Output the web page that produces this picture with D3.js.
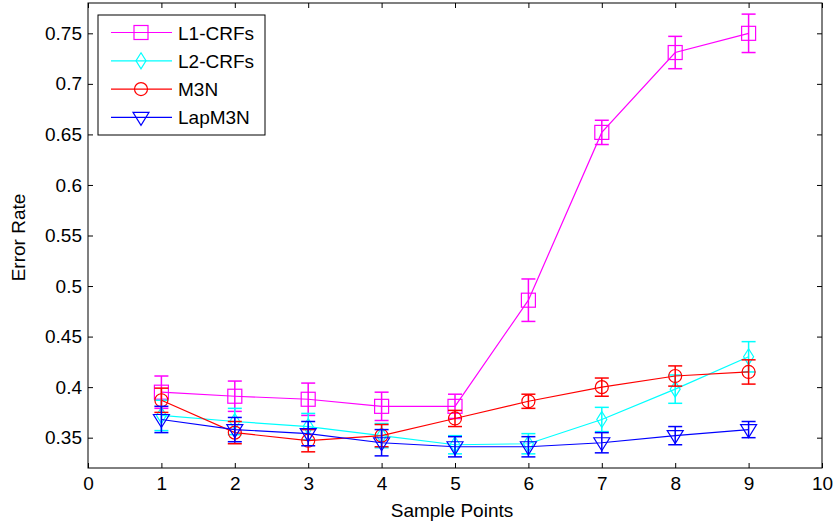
<!DOCTYPE html>
<html>
<head>
<meta charset="utf-8">
<script src="https://cdn.jsdelivr.net/npm/d3@7"></script>
<style>
body { margin: 0; background: #fff; }
text { font-family: "Liberation Sans", Arial, sans-serif; }
</style>
</head>
<body>
<div id="chart"></div>
<script>
var points = [1, 2, 3, 4, 5, 6, 7, 8, 9];
var xTicks = [0, 1, 2, 3, 4, 5, 6, 7, 8, 9, 10];
var yTicks = [0.35, 0.4, 0.45, 0.5, 0.55, 0.6, 0.65, 0.7, 0.75];

var l1Mean = [0.395, 0.391, 0.388, 0.381, 0.381, 0.486, 0.652, 0.731, 0.750];
var l1Err  = [0.016, 0.015, 0.016, 0.014, 0.012, 0.021, 0.012, 0.016, 0.019];
var l2Mean = [0.372, 0.366, 0.361, 0.352, 0.343, 0.344, 0.368, 0.398, 0.430];
var l2Err  = [0.015, 0.013, 0.013, 0.012, 0.009, 0.010, 0.012, 0.014, 0.015];
var m3Mean = [0.387, 0.355, 0.347, 0.352, 0.369, 0.386, 0.400, 0.411, 0.415];
var m3Err  = [0.012, 0.011, 0.011, 0.011, 0.008, 0.007, 0.009, 0.010, 0.012];
var lapMean = [0.368, 0.358, 0.354, 0.345, 0.341, 0.341, 0.345, 0.352, 0.358];
var lapErr  = [0.013, 0.012, 0.012, 0.013, 0.010, 0.010, 0.010, 0.009, 0.008];

var seriesNames = ["L1-CRFs", "L2-CRFs", "M3N", "LapM3N"];
var seriesColors = ["#ff00ff", "#00ffff", "#ff0000", "#0000ff"];
var seriesMarkers = ["square", "diamond", "circle", "triangle"];
var seriesMeans = [l1Mean, l2Mean, m3Mean, lapMean];
var seriesErrs = [l1Err, l2Err, m3Err, lapErr];

var fs = 19;

var m = {l: 88, r: 12, t: 3, b: 55},
    W = 834, H = 523,
    w = W - m.l - m.r,
    h = H - m.t - m.b;

var svg = d3.select("#chart").append("svg")
  .attr("width", W)
  .attr("height", H);

var g = svg.append("g")
  .attr("transform", "translate(" + m.l + "," + m.t + ")");

var x = d3.scaleLinear().domain([0, 10]).range([0, w]);
var y = d3.scaleLinear().domain([0.32, 0.78]).range([h, 0]);

// frame
g.append("rect")
  .attr("width", w).attr("height", h)
  .attr("fill", "none").attr("stroke", "#000").attr("stroke-width", 1);

var fmt = function(d) { return String(+d.toFixed(2)); };

// axes, ticks inward on all sides
g.append("g").attr("transform", "translate(0," + h + ")")
  .call(d3.axisBottom(x).tickValues(xTicks).tickSizeInner(-5).tickSizeOuter(0).tickPadding(9));
g.append("g")
  .call(d3.axisTop(x).tickValues(xTicks).tickSizeInner(-5).tickSizeOuter(0).tickFormat(""));
g.append("g")
  .call(d3.axisLeft(y).tickValues(yTicks).tickSizeInner(-5).tickSizeOuter(0).tickPadding(6).tickFormat(fmt));
g.append("g").attr("transform", "translate(" + w + ",0)")
  .call(d3.axisRight(y).tickValues(yTicks).tickSizeInner(-5).tickSizeOuter(0).tickFormat(""));

g.selectAll(".domain").remove();
g.selectAll(".tick line").attr("stroke", "#000");
g.selectAll(".tick text").attr("font-size", fs).attr("fill", "#000")
  .style("font-family", "'Liberation Sans', Arial, sans-serif");

// axis titles
svg.append("text")
  .attr("x", m.l + w / 2 - 3).attr("y", 517)
  .attr("text-anchor", "middle").attr("font-size", fs)
  .text("Sample Points");
svg.append("text")
  .attr("transform", "translate(25," + (m.t + h / 2 + 2) + ") rotate(-90)")
  .attr("text-anchor", "middle").attr("font-size", fs)
  .text("Error Rate");

function drawMarker(sel, type, color) {
  if (type === "square") {
    sel.append("rect").attr("x", -7).attr("y", -7).attr("width", 14).attr("height", 14)
      .attr("fill", "none").attr("stroke", color).attr("stroke-width", 1.2);
  } else if (type === "diamond") {
    sel.append("path").attr("d", "M0,-8L5,0L0,8L-5,0Z")
      .attr("fill", "none").attr("stroke", color).attr("stroke-width", 1.2);
  } else if (type === "circle") {
    sel.append("circle").attr("r", 6.5)
      .attr("fill", "none").attr("stroke", color).attr("stroke-width", 1.2);
  } else {
    sel.append("path").attr("d", "M-8,-5L8,-5L0,8Z")
      .attr("fill", "none").attr("stroke", color).attr("stroke-width", 1.2);
  }
}

var line = d3.line()
  .x(function(d) { return x(d[0]); })
  .y(function(d) { return y(d[1]); });

seriesNames.forEach(function(name, k) {
  var color = seriesColors[k];
  var data = points.map(function(p, i) { return [p, seriesMeans[k][i], seriesErrs[k][i]]; });
  var sg = g.append("g");

  sg.append("path").datum(data)
    .attr("d", line)
    .attr("fill", "none").attr("stroke", color).attr("stroke-width", 1.2);

  var eb = sg.selectAll(".eb").data(data).enter().append("g");
  eb.append("line")
    .attr("x1", function(d) { return x(d[0]); }).attr("x2", function(d) { return x(d[0]); })
    .attr("y1", function(d) { return y(d[1] - d[2]); }).attr("y2", function(d) { return y(d[1] + d[2]); })
    .attr("stroke", color).attr("stroke-width", 1.5);
  [-1, 1].forEach(function(s) {
    eb.append("line")
      .attr("x1", function(d) { return x(d[0]) - 7; }).attr("x2", function(d) { return x(d[0]) + 7; })
      .attr("y1", function(d) { return y(d[1] + s * d[2]); }).attr("y2", function(d) { return y(d[1] + s * d[2]); })
      .attr("stroke", color).attr("stroke-width", 1.5);
  });

  sg.selectAll(".mk").data(data).enter().append("g")
    .attr("transform", function(d) { return "translate(" + x(d[0]) + "," + y(d[1]) + ")"; })
    .each(function() { drawMarker(d3.select(this), seriesMarkers[k], color); });
});

// legend
var lg = svg.append("g").attr("transform", "translate(98,15)");
lg.append("rect").attr("width", 167).attr("height", 120)
  .attr("fill", "#fff").attr("stroke", "#000").attr("stroke-width", 1);
seriesNames.forEach(function(name, k) {
  var ly = 17.5 + k * 28.3;
  var color = seriesColors[k];
  lg.append("line").attr("x1", 13).attr("x2", 74).attr("y1", ly).attr("y2", ly)
    .attr("stroke", color).attr("stroke-width", 1.2);
  var mk = lg.append("g").attr("transform", "translate(43," + ly + ")");
  drawMarker(mk, seriesMarkers[k], color);
  lg.append("text").attr("x", 80).attr("y", ly + 7)
    .attr("font-size", fs).text(name);
});
</script>
</body>
</html>
